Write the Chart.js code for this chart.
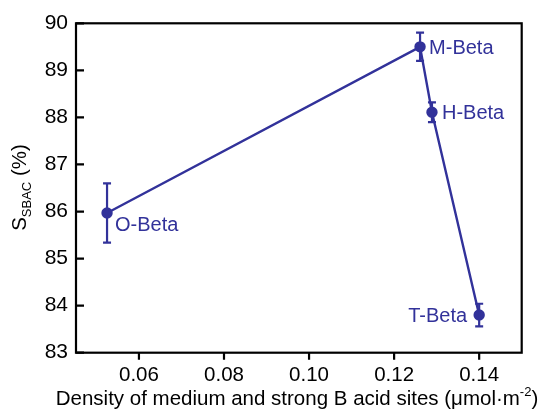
<!DOCTYPE html>
<html>
<head>
<meta charset="utf-8">
<script src="https://cdn.jsdelivr.net/npm/chart.js@4/dist/chart.umd.min.js"></script>
<style>
  html, body { margin: 0; padding: 0; background: #fff; }
  #wrap { width: 541px; height: 409px; }
</style>
</head>
<body>
<div id="wrap"><canvas id="chart"></canvas></div>
<script>
// ---------- data ----------
const samples = ['O-Beta', 'M-Beta', 'H-Beta', 'T-Beta'];
const density = [0.0525, 0.1261, 0.1289, 0.1400];   // umol/m2
const selectivity = [85.97, 89.50, 88.11, 83.80];   // %
const errors = [0.63, 0.30, 0.21, 0.24];
const xTicks = [0.06, 0.08, 0.10, 0.12, 0.14];
const yTicks = [83, 84, 85, 86, 87, 88, 89, 90];

const blue = '#32329a';
const FONT = 'Arial, "Liberation Sans", sans-serif';

// label offset from its point: [dx, dy, align]
const labelPos = [[8, 13, 'left'], [9, 1.5, 'left'], [10, 1.5, 'left'], [-12, 1.5, 'right']];

// ---------- error bars, frame, ticks, labels, titles ----------
const decorPlugin = {
    id: 'decor',
    afterDatasetsDraw(chart) {
        const ctx = chart.ctx;
        const xs = chart.scales.x, ys = chart.scales.y;
        const a = chart.chartArea;

        // error bars
        ctx.save();
        ctx.strokeStyle = blue;
        ctx.lineWidth = 2.2;
        density.forEach((d, i) => {
            const px = xs.getPixelForValue(d);
            const top = ys.getPixelForValue(selectivity[i] + errors[i]);
            const bot = ys.getPixelForValue(selectivity[i] - errors[i]);
            ctx.beginPath();
            ctx.moveTo(px, top); ctx.lineTo(px, bot);
            ctx.moveTo(px - 4, top); ctx.lineTo(px + 4, top);
            ctx.moveTo(px - 4, bot); ctx.lineTo(px + 4, bot);
            ctx.stroke();
        });
        ctx.restore();

        // point labels
        ctx.save();
        ctx.fillStyle = blue;
        ctx.font = '20px ' + FONT;
        ctx.textBaseline = 'middle';
        samples.forEach((s, i) => {
            const px = xs.getPixelForValue(density[i]);
            const py = ys.getPixelForValue(selectivity[i]);
            ctx.textAlign = labelPos[i][2];
            ctx.fillText(s, px + labelPos[i][0], py + labelPos[i][1]);
        });
        ctx.restore();

        // frame, inward ticks on y, outward ticks on x
        ctx.save();
        ctx.strokeStyle = '#000';
        ctx.lineWidth = 2.2;
        ctx.strokeRect(a.left, a.top, a.right - a.left, a.bottom - a.top);
        ctx.beginPath();
        yTicks.forEach(v => {
            const py = ys.getPixelForValue(v);
            ctx.moveTo(a.left, py); ctx.lineTo(a.left + 8, py);
        });
        xTicks.forEach(v => {
            const px = xs.getPixelForValue(v);
            ctx.moveTo(px, a.bottom); ctx.lineTo(px, a.bottom + 7);
        });
        ctx.stroke();
        ctx.restore();

        // axis titles
        ctx.save();
        ctx.fillStyle = '#000';
        ctx.textBaseline = 'alphabetic';
        ctx.textAlign = 'left';
        const main = 'Density of medium and strong B acid sites (\u03bcmol\u00b7m';
        ctx.font = '20.5px ' + FONT;
        const wMain = ctx.measureText(main).width;
        const wEnd = ctx.measureText(')').width;
        ctx.font = '13px ' + FONT;
        const wSup = ctx.measureText('-2').width;
        const x0 = 297 - (wMain + wSup + wEnd) / 2;
        ctx.font = '20.5px ' + FONT;
        ctx.fillText(main, x0, 405);
        ctx.fillText(')', x0 + wMain + wSup, 405);
        ctx.font = '13px ' + FONT;
        ctx.fillText('-2', x0 + wMain, 396);

        ctx.translate(26, 187.5);
        ctx.rotate(-Math.PI / 2);
        ctx.font = '20.5px ' + FONT;
        const wS = ctx.measureText('S').width;
        const wRest = ctx.measureText(' (%)').width;
        ctx.font = '13px ' + FONT;
        const wSub = ctx.measureText('SBAC').width;
        const y0 = -(wS + wSub + wRest) / 2;
        ctx.font = '20.5px ' + FONT;
        ctx.fillText('S', y0, 0);
        ctx.fillText(' (%)', y0 + wS + wSub, 0);
        ctx.font = '13px ' + FONT;
        ctx.fillText('SBAC', y0 + wS, 5);
        ctx.restore();
    }
};

const points = density.map((d, i) => ({ x: d, y: selectivity[i] }));

new Chart(document.getElementById('chart'), {
    type: 'scatter',
    data: {
        datasets: [{
            data: points,
            showLine: true,
            borderColor: blue,
            backgroundColor: blue,
            borderWidth: 2.4,
            pointRadius: 4.5,
            pointHoverRadius: 4.5
        }]
    },
    options: {
        responsive: true,
        maintainAspectRatio: false,
        animation: false,
        layout: { padding: { top: 23.3, right: 19.3, left: 0, bottom: 0 } },
        plugins: { legend: { display: false }, tooltip: { enabled: false } },
        scales: {
            x: {
                type: 'linear',
                min: 0.0452,
                max: 0.15,
                afterFit: s => { s.height = 56.3; },
                afterBuildTicks: s => { s.ticks = xTicks.map(v => ({ value: v })); },
                grid: { display: false, drawTicks: false },
                border: { display: false },
                ticks: {
                    color: '#000',
                    padding: 10,
                    maxRotation: 0,
                    font: { family: FONT, size: 20.5 },
                    callback: v => v.toFixed(2)
                }
            },
            y: {
                min: 83,
                max: 90,
                afterFit: s => { s.width = 76; },
                afterBuildTicks: s => { s.ticks = yTicks.map(v => ({ value: v })); },
                grid: { display: false, drawTicks: false },
                border: { display: false },
                ticks: {
                    color: '#000',
                    padding: 8,
                    font: { family: FONT, size: 21 },
                    callback: v => String(v)
                }
            }
        }
    },
    plugins: [decorPlugin]
});
</script>
</body>
</html>
